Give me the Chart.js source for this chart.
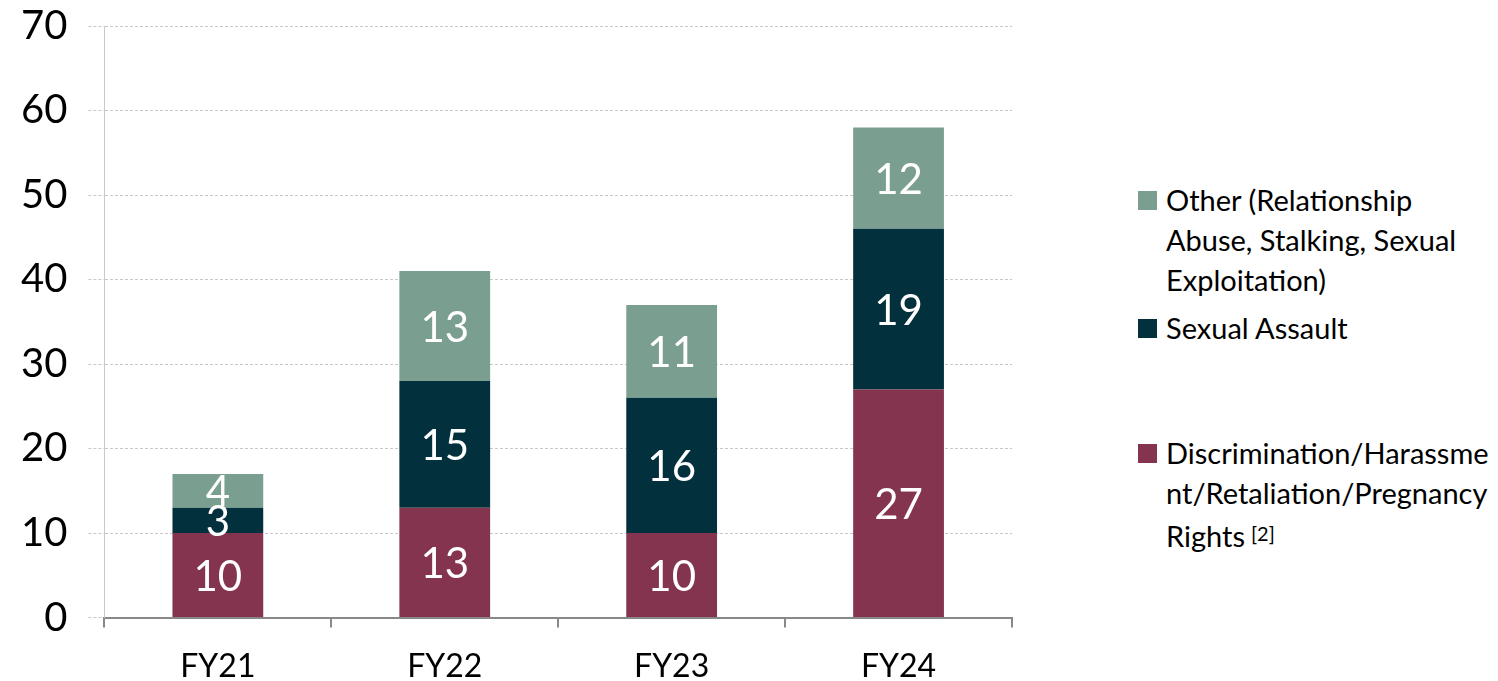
<!DOCTYPE html>
<html>
<head>
<meta charset="utf-8">
<script src="https://cdn.jsdelivr.net/npm/chart.js@4.4.1/dist/chart.umd.min.js"></script>
<style>
  body { margin: 0; background: #fff; font-family: Lato, "Open Sans", sans-serif; overflow: hidden; }
  #wrap { position: relative; width: 1498px; height: 681px; overflow: hidden; }
  #box { position: absolute; left: 0; top: -19px; width: 1060px; height: 725px; }
  #legend { position: absolute; left: 1138px; top: 180px; width: 360px; font-size: 29px; line-height: 40px; color: #000; white-space: nowrap; }
  .item { position: relative; padding-left: 28px; }
  .sw { position: absolute; left: 0; top: 11px; width: 19px; height: 19px; }
  sup { font-size: 20px; vertical-align: 6px; margin-left: 6px; }
</style>
</head>
<body>
<div id="wrap">
  <div id="box"><canvas id="myChart"></canvas></div>
  <div id="legend"></div>
</div>
<script>
// wartości
const years = ['FY21', 'FY22', 'FY23', 'FY24'];
const discrimination = [10, 13, 10, 27];
const assault = [3, 15, 16, 19];
const other = [4, 13, 11, 12];
const yTicks = [0, 10, 20, 30, 40, 50, 60, 70];

// kolejność legendy: od góry
const legendItems = [
  { color: '#7a9f90', html: 'Other (Relationship<br>Abuse, Stalking, Sexual<br>Exploitation)', gap: 8 },
  { color: '#02303c', html: 'Sexual Assault', gap: 85 },
  { color: '#84344e', html: 'Discrimination/Harassme<br>nt/Retaliation/Pregnancy<br>Rights<sup>[2]</sup>', gap: 0 }
];

let lg = '';
for (let i = 0; i < legendItems.length; i++) {
  lg += '<div class="item" style="margin-bottom:' + legendItems[i].gap + 'px"><span class="sw" style="background:' +
    legendItems[i].color + '"></span>' + legendItems[i].html + '</div>';
}
document.getElementById('legend').innerHTML = lg;

// liczby na słupkach
const barLabels = {
  id: 'barLabels',
  afterDatasetsDraw(chart) {
    const ctx = chart.ctx;
    ctx.save();
    ctx.fillStyle = '#fff';
    ctx.font = '42px Lato';
    ctx.textAlign = 'center';
    ctx.textBaseline = 'middle';
    chart.data.datasets.forEach(function (ds, d) {
      chart.getDatasetMeta(d).data.forEach(function (bar, i) {
        const c = bar.getCenterPoint();
        ctx.fillText(ds.data[i], c.x, c.y + 2);
      });
    });
    ctx.restore();
  }
};

const ctx = document.getElementById('myChart');
new Chart(ctx, {
  type: 'bar',
  data: {
    labels: years,
    datasets: [
      { label: 'Discrimination', data: discrimination, backgroundColor: '#84344e' },
      { label: 'Sexual Assault', data: assault, backgroundColor: '#02303c' },
      { label: 'Other', data: other, backgroundColor: '#7a9f90' }
    ]
  },
  options: {
    responsive: true,
    maintainAspectRatio: false,
    animation: false,
    layout: { padding: { top: 8, right: 48, bottom: 0, left: 0 } },
    datasets: { bar: { categoryPercentage: 1, barPercentage: 0.4 } },
    plugins: { legend: { display: false }, tooltip: { enabled: false } },
    scales: {
      x: {
        stacked: true,
        grid: { drawOnChartArea: false, drawTicks: true, tickLength: 10, color: '#888', lineWidth: 2 },
        border: { color: '#888', width: 2 },
        ticks: { color: '#000', font: { family: 'Lato', size: 32 }, padding: 20 }
      },
      y: {
        stacked: true,
        min: 0,
        max: 70,
        afterBuildTicks: function (axis) { axis.ticks = yTicks.map(function (v) { return { value: v }; }); },
        grid: { color: '#c8c8c8', lineWidth: 1, tickLength: 16, tickBorderDash: [3, 2], borderDash: [3, 2] },
        border: { color: '#c8c8c8', dash: [3, 2] },
        ticks: { color: '#000', font: { family: 'Lato', size: 40 }, padding: 21 }
      }
    }
  },
  plugins: [barLabels]
});
</script>
</body>
</html>
